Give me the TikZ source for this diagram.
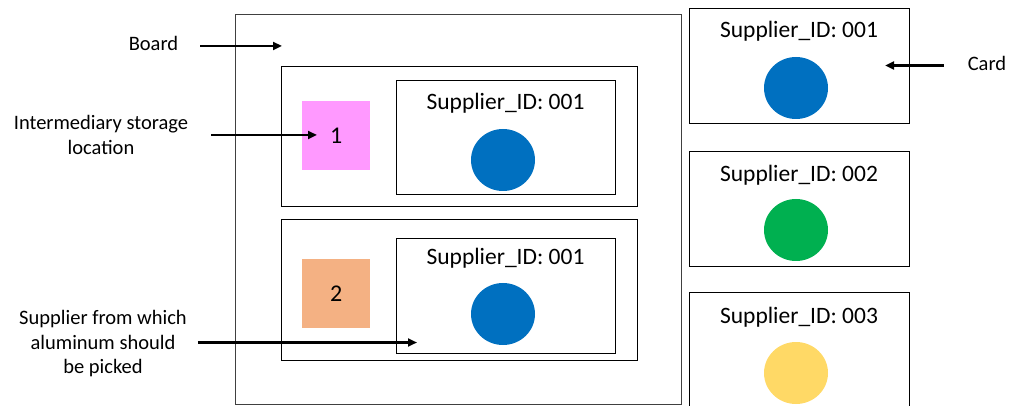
\documentclass[tikz,border=0pt]{standalone}
\usepackage{fontspec}
\setmainfont{Carlito}
\usetikzlibrary{arrows.meta,shapes.geometric}
\definecolor{pinkfill}{HTML}{FF99FF}
\definecolor{orangefill}{HTML}{F4B183}
\definecolor{supblue}{HTML}{0070C0}
\definecolor{supgreen}{HTML}{00B050}
\definecolor{supyellow}{HTML}{FFD966}
\definecolor{frame}{HTML}{404040}
\tikzset{
  box/.style={draw=frame, line width=0.9pt, anchor=north west, inner sep=0pt},
  cardbox/.style={draw=black, line width=0.8pt, anchor=north west, inner sep=0pt,
    minimum width=219pt, minimum height=115pt},
  slot/.style={anchor=north west, inner sep=0pt, minimum width=68pt, minimum height=69pt,
    font=\fontsize{24}{28}\selectfont},
  cardtitle/.style={font=\fontsize{23.5}{28}\selectfont, inner sep=0pt},
  dot/.style={ellipse, inner sep=0pt, minimum width=64pt, minimum height=62pt},
  lbl/.style={font=\fontsize{20.5}{24.5}\selectfont, align=center, inner sep=0pt},
  arr/.style={line width=2.4pt, -{Triangle[length=9pt,width=8pt]}}
}
\begin{document}
\begin{tikzpicture}[x=1pt,y=-1pt]
\useasboundingbox (0,0) rectangle (1010,406);

% board with two storage rows
\node[box, minimum width=446pt, minimum height=390pt] (board) at (234.5,14) {};
\node[box, draw=black, minimum width=356pt, minimum height=140pt] (row1) at (281,66) {};
\node[box, draw=black, minimum width=356pt, minimum height=141pt] (row2) at (281,219) {};

% intermediary storage locations
\node[slot, fill=pinkfill] (loc1) at (302,101) {1};
\node[slot, fill=orangefill] (loc2) at (302,259) {2};

% cards placed on the board
\node[cardbox, minimum height=114pt] (bc1) at (396,80.5) {};
\node[cardtitle] (bc1t) at (505.5,103) {Supplier\_ID: 001};
\node[dot, fill=supblue] (bc1d) at (503,160) {};

\node[cardbox, minimum height=115pt] (bc2) at (396,238) {};
\node[cardtitle] (bc2t) at (505.5,258) {Supplier\_ID: 001};
\node[dot, fill=supblue] (bc2d) at (503,314) {};

% card stack on the right
\node[cardbox, minimum width=220pt] (c1) at (689,8.5) {};
\node[cardtitle] (c1t) at (799,31) {Supplier\_ID: 001};
\node[dot, fill=supblue] (c1d) at (796,88) {};

\node[cardbox, minimum width=220pt] (c2) at (689,151) {};
\node[cardtitle] (c2t) at (799,175) {Supplier\_ID: 002};
\node[dot, fill=supgreen] (c2d) at (796,230) {};

\node[cardbox, minimum width=220pt, minimum height=125pt] (c3) at (689,292.5) {};
\node[cardtitle] (c3t) at (799,317) {Supplier\_ID: 003};
\node[dot, fill=supyellow] (c3d) at (796,373) {};

% labels
\node[lbl] (lboard) at (153.5,43) {Board};
\node[lbl] (lcard) at (987,63) {Card};
\node[lbl] (lloc) at (101,135) {Intermediary storage\\location};
\node[lbl] (lsup) at (103,344) {Supplier from which\\aluminum should\\be picked};

% pointer ends
\coordinate (tboard) at (282,46);
\coordinate (tcard) at (885,65.5);
\coordinate (tloc) at (317,135);
\coordinate (tsup) at (417,342.5);

\draw[arr] ([xshift=22pt]lboard.east |- tboard) -- (tboard);
\draw[arr] ([xshift=-24pt]lcard.west |- tcard) -- (tcard);
\draw[arr] ([xshift=23pt]lloc.east |- tloc) -- (tloc);
\draw[arr] ([xshift=11pt]lsup.east |- tsup) -- (tsup);
\end{tikzpicture}
\end{document}
